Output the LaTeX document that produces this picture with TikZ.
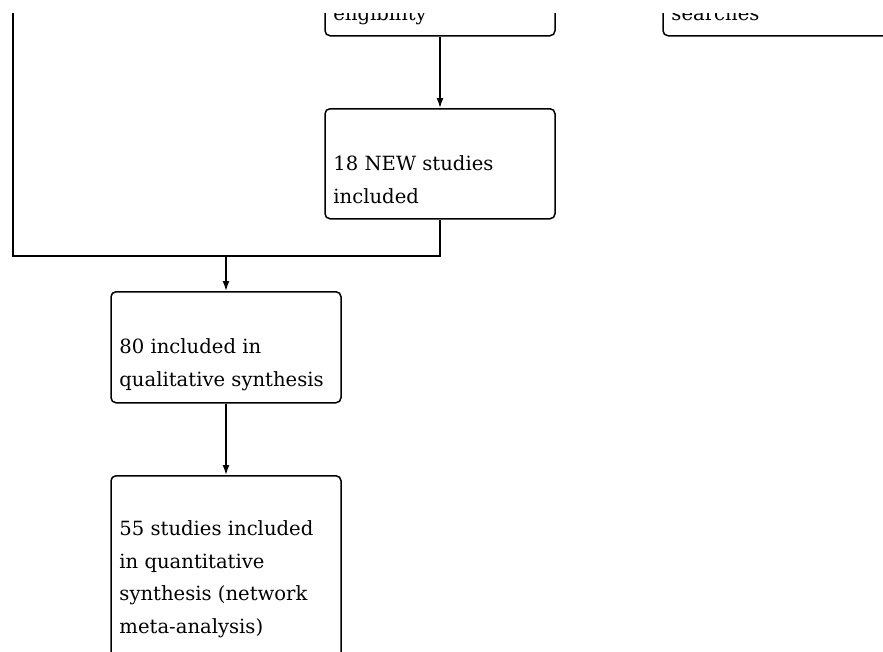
\documentclass[tikz,border=0pt]{standalone}
\usepackage{fontspec}
\setmainfont{DejaVu Serif}
\usetikzlibrary{arrows.meta,calc}

\tikzset{
  box/.style={draw, rounded corners=5pt, minimum width=230, minimum height=110, inner sep=0, line width=1.5pt, anchor=north},
  txt/.style={font=\fontsize{19.6}{32.5}\selectfont, align=left, anchor=base west, inner sep=0},
  link/.style={line width=1.5pt},
  arr/.style={link, -{Latex[length=10pt,width=7pt]}}
}

\begin{document}
\begin{tikzpicture}[x=1pt, y=-1pt]
  \useasboundingbox (0,0) rectangle (883,651);
  \clip (0,13) rectangle (883,651);

  % Nodes
  \node[box] (elig)   at (440,-75) {};
  \node[box] (search) at (778,-75) {};
  \node[box] (new)    at (440,108) {};
  \node[box, minimum height=111] (qual) at (226,291) {};
  \node[box, minimum height=220] (quant) at (226,475) {};

  % Texts (base = last line)
  \node[txt] (eligtxt)   at ($(elig.south west)+(9,-16)$)   {eligibility};
  \node[txt] (searchtxt) at ($(search.south west)+(9,-16)$) {searches};
  \node[txt] (newtxt)    at ($(new.north west)+(9,95)$)     {18 NEW studies\\included};
  \node[txt] (qualtxt)   at ($(qual.north west)+(9,95)$)    {80 included in\\qualitative synthesis};
  \node[txt] (quanttxt)  at ($(quant.north west)+(9,158)$)  {55 studies included\\in quantitative\\synthesis (network\\meta-analysis)};

  \coordinate (merge) at (13,256);
  \coordinate (older) at (13,0);

  % Edges
  \draw[arr]  (elig.south) -- (new.north);
  \draw[link] (new.south) |- (merge) -- (older);
  \draw[arr]  (qual.north |- merge) -- (qual.north);
  \draw[arr]  (qual.south) -- (quant.north);

\end{tikzpicture}
\end{document}
